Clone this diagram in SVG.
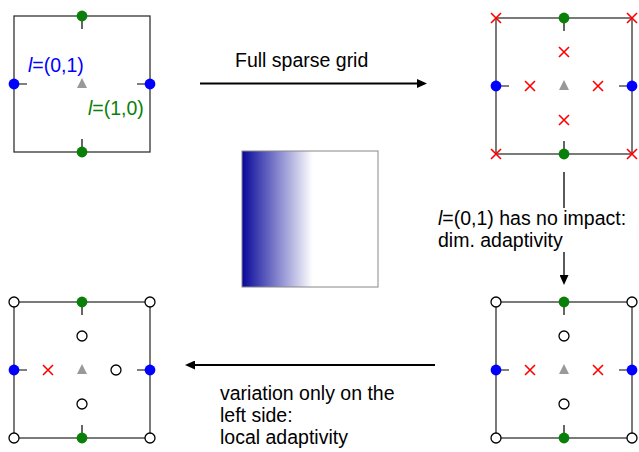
<svg xmlns="http://www.w3.org/2000/svg" xmlns:xlink="http://www.w3.org/1999/xlink" width="639" height="452" viewBox="0 0 639 452">
<style>
.box{fill:none;stroke:#333;stroke-width:1.3}
.tick{stroke:#000;stroke-width:1.2}
.blue{fill:#0000ff}
.green{fill:#0a800a}
.open{fill:#fff;stroke:#000;stroke-width:1.3}
.cross{fill:none;stroke:#ff0000;stroke-width:1.6}
.tri{fill:#999}
.lbl{font-family:"Liberation Sans",Arial,sans-serif;font-size:19.5px;fill:#000}
.conn{stroke:#000;fill:none}
</style>
<defs>
<path id="x" class="cross" d="M-5,-5 L5,5 M-5,5 L5,-5"/>
<marker id="ah" markerWidth="10" markerHeight="9" refX="5" refY="4.5" orient="auto" markerUnits="userSpaceOnUse"><path d="M0,0 L10,4.5 L0,9 z" fill="#000"/></marker>
<linearGradient id="grad" x1="0" y1="0" x2="1" y2="0">
<stop offset="0" stop-color="#08089a"/>
<stop offset="0.52" stop-color="#ffffff"/>
</linearGradient>
<g id="frame">
<rect class="box" x="0" y="0" width="136" height="136"/>
<path class="tick" d="M68,0 V13 M68,123 V136 M0,68 H13 M123,68 H136"/>
<polygon class="tri" points="68,62 63,72 73,72"/>
</g>
<g id="axes">
<circle class="green" cx="68" cy="0" r="5.4"/>
<circle class="green" cx="68" cy="136" r="5.4"/>
<circle class="blue" cx="0" cy="68" r="5.4"/>
<circle class="blue" cx="136" cy="68" r="5.4"/>
</g>
</defs>

<g id="connectors">
<line class="conn" x1="200" y1="83.5" x2="422" y2="83.5" stroke-width="2" marker-end="url(#ah)"/>
<line class="conn" x1="564" y1="172" x2="564" y2="280" stroke-width="1.3" marker-end="url(#ah)"/>
<line class="conn" x1="435" y1="365" x2="190" y2="365" stroke-width="2" marker-end="url(#ah)"/>
</g>

<g id="grid-initial" transform="translate(14,16)">
<use xlink:href="#frame"/>
<use xlink:href="#axes"/>
</g>

<g id="grid-full" transform="translate(496,18)">
<use xlink:href="#frame"/>
<use xlink:href="#x" x="0" y="0"/>
<use xlink:href="#x" x="136" y="0"/>
<use xlink:href="#x" x="0" y="136"/>
<use xlink:href="#x" x="136" y="136"/>
<use xlink:href="#x" x="68" y="34"/>
<use xlink:href="#x" x="68" y="102"/>
<use xlink:href="#x" x="34" y="68"/>
<use xlink:href="#x" x="102" y="68"/>
<use xlink:href="#axes"/>
</g>

<g id="grid-dim" transform="translate(496,302)">
<use xlink:href="#frame"/>
<circle class="open" cx="0" cy="0" r="5"/>
<circle class="open" cx="136" cy="0" r="5"/>
<circle class="open" cx="0" cy="136" r="5"/>
<circle class="open" cx="136" cy="136" r="5"/>
<circle class="open" cx="68" cy="34" r="5"/>
<circle class="open" cx="68" cy="102" r="5"/>
<use xlink:href="#x" x="34" y="68"/>
<use xlink:href="#x" x="102" y="68"/>
<use xlink:href="#axes"/>
</g>

<g id="grid-local" transform="translate(14,302)">
<use xlink:href="#frame"/>
<circle class="open" cx="0" cy="0" r="5"/>
<circle class="open" cx="136" cy="0" r="5"/>
<circle class="open" cx="0" cy="136" r="5"/>
<circle class="open" cx="136" cy="136" r="5"/>
<circle class="open" cx="68" cy="34" r="5"/>
<circle class="open" cx="68" cy="102" r="5"/>
<circle class="open" cx="102" cy="68" r="5"/>
<use xlink:href="#x" x="34" y="68"/>
<use xlink:href="#axes"/>
</g>

<g id="gradient-function">
<rect x="242" y="151" width="136" height="136" fill="url(#grad)" stroke="#888" stroke-width="1"/>
</g>

<g id="label-l01">
<text class="lbl" x="28" y="72" style="fill:#0000ff"><tspan font-style="italic">l</tspan>=(0,1)</text>
</g>
<g id="label-l10">
<text class="lbl" x="88" y="115" style="fill:#0a800a"><tspan font-style="italic">l</tspan>=(1,0)</text>
</g>
<g id="label-full">
<text class="lbl" x="235" y="67">Full sparse grid</text>
</g>
<g id="label-dim">
<rect x="436" y="208" width="196" height="44" fill="#fff"/>
<text class="lbl" x="438" y="225"><tspan font-style="italic">l</tspan>=(0,1) has no impact:</text>
<text class="lbl" x="438" y="247">dim. adaptivity</text>
</g>
<g id="label-local">
<text class="lbl" x="220" y="400">variation only on the</text>
<text class="lbl" x="220" y="422">left side:</text>
<text class="lbl" x="220" y="444">local adaptivity</text>
</g>
</svg>
